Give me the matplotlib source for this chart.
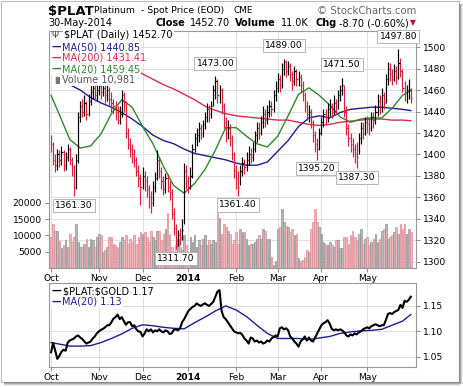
import matplotlib
matplotlib.use('Agg')
import matplotlib.pyplot as plt
import matplotlib.transforms as mtransforms
from matplotlib.patches import Rectangle
import numpy as np
import pandas as pd

plt.rcParams['font.family'] = ['DejaVu Sans']

# ---------------- data ----------------
start_date = '2013-10-01'
end_date = '2014-05-30'
prev_close = 1420.0

closes = [1410, 1395, 1390, 1400, 1395, 1402, 1390, 1398, 1405, 1395,
          1388, 1370, 1395, 1435, 1445, 1440, 1448, 1438, 1450, 1458,
          1462, 1455, 1460, 1464, 1458, 1462, 1455, 1460, 1452, 1448,
          1445, 1440, 1432, 1438, 1455, 1450, 1420, 1410, 1405, 1400,
          1395, 1385, 1378, 1370, 1380, 1375, 1368, 1360, 1355, 1370,
          1378, 1395, 1385, 1375, 1368, 1378, 1370, 1365, 1345, 1332,
          1318, 1325, 1322, 1330, 1385, 1375, 1370, 1380, 1405, 1415,
          1418, 1425, 1420, 1428, 1435, 1442, 1438, 1445, 1460, 1468,
          1455, 1460, 1445, 1430, 1420, 1425, 1415, 1400, 1385, 1378,
          1370, 1385, 1392, 1388, 1395, 1400, 1398, 1405, 1418, 1425,
          1420, 1430, 1438, 1432, 1440, 1445, 1442, 1455, 1462, 1470,
          1465, 1480, 1486, 1478, 1482, 1475, 1468, 1478, 1470, 1472,
          1465, 1455, 1445, 1438, 1440, 1430, 1418, 1410, 1405, 1420,
          1430, 1438, 1435, 1442, 1445, 1440, 1448, 1445, 1455, 1460,
          1465, 1440, 1425, 1415, 1410, 1405, 1400, 1398, 1415, 1425,
          1420, 1430, 1428, 1425, 1435, 1432, 1440, 1450, 1445, 1455,
          1448, 1470, 1480, 1475, 1470, 1478, 1472, 1485, 1478, 1462,
          1458, 1460, 1461.4, 1452.7]

highs = [1418, 1412, 1400, 1405, 1404, 1408, 1404, 1402, 1410, 1407,
         1398, 1390, 1400, 1440, 1450, 1452, 1455, 1450, 1456, 1465,
         1468, 1466, 1465, 1470, 1468, 1468, 1466, 1466, 1463, 1458,
         1452, 1450, 1445, 1445, 1460, 1458, 1450, 1425, 1415, 1410,
         1405, 1398, 1390, 1382, 1388, 1385, 1380, 1372, 1366, 1375,
         1384, 1404, 1398, 1388, 1380, 1383, 1382, 1375, 1368, 1350,
         1335, 1330, 1332, 1340, 1392, 1390, 1380, 1388, 1410, 1420,
         1425, 1430, 1428, 1432, 1440, 1448, 1446, 1450, 1465, 1473,
         1470, 1465, 1462, 1448, 1435, 1432, 1428, 1418, 1402, 1390,
         1385, 1390, 1398, 1396, 1402, 1408, 1406, 1412, 1422, 1430,
         1430, 1436, 1445, 1442, 1446, 1451, 1450, 1460, 1468, 1476,
         1474, 1485, 1489, 1488, 1487, 1485, 1478, 1482, 1480, 1478,
         1475, 1468, 1458, 1450, 1446, 1442, 1432, 1422, 1415, 1425,
         1435, 1442, 1442, 1448, 1452, 1448, 1455, 1452, 1460, 1465,
         1471.5, 1465, 1445, 1428, 1420, 1415, 1410, 1412, 1420, 1430,
         1430, 1435, 1436, 1434, 1440, 1440, 1446, 1456, 1455, 1462,
         1458, 1475, 1486, 1485, 1480, 1484, 1482, 1497.8, 1490, 1480,
         1468, 1465, 1470, 1462]

lows = [1402, 1390, 1384, 1386, 1388, 1390, 1385, 1386, 1394, 1390,
        1380, 1361.3, 1368, 1392, 1430, 1435, 1436, 1432, 1436, 1446,
        1452, 1450, 1450, 1455, 1452, 1454, 1448, 1450, 1446, 1440,
        1438, 1432, 1428, 1428, 1435, 1440, 1415, 1405, 1398, 1392,
        1388, 1380, 1370, 1353, 1368, 1366, 1360, 1350, 1346, 1352,
        1365, 1376, 1378, 1368, 1362, 1364, 1365, 1358, 1340, 1325,
        1311.7, 1315, 1316, 1320, 1335, 1368, 1364, 1368, 1378, 1402,
        1408, 1412, 1414, 1416, 1424, 1430, 1430, 1434, 1445, 1452,
        1448, 1448, 1438, 1425, 1412, 1414, 1408, 1395, 1378, 1368,
        1361.4, 1372, 1380, 1382, 1385, 1390, 1392, 1394, 1402, 1412,
        1414, 1418, 1425, 1426, 1428, 1435, 1436, 1440, 1450, 1458,
        1458, 1462, 1474, 1472, 1474, 1468, 1460, 1465, 1464, 1464,
        1458, 1450, 1440, 1432, 1430, 1425, 1412, 1402, 1395.2, 1404,
        1418, 1426, 1428, 1430, 1436, 1434, 1438, 1438, 1442, 1450,
        1455, 1435, 1418, 1408, 1402, 1398, 1392, 1387.3, 1400, 1410,
        1414, 1418, 1420, 1418, 1422, 1425, 1428, 1436, 1438, 1440,
        1442, 1448, 1465, 1468, 1465, 1468, 1466, 1470, 1472, 1458,
        1450, 1448, 1452, 1448]

volume = [9500, 13500, 11500, 11500, 8300, 6000, 7000, 8500, 6500, 10500,
          8000, 9500, 13500, 8000, 6500, 6500, 7500, 9000, 6500, 9000,
          8500, 6500, 9500,
          10500, 10000, 4800, 5500, 6500, 9500, 9500, 7500, 7000, 6500,
          8000, 9500, 8500, 10000, 7500, 9000, 8000, 10000, 7500, 9500, 11000,
          10500, 11000, 9500, 8000, 11500, 9500, 8500, 11500, 11500, 8500,
          10500, 12000, 17000, 10500, 6500, 5000, 7000, 9000, 6500, 5500,
          10000, 7000,
          3000, 9500, 8000, 10000, 6500, 8500, 7000, 9000, 10000, 7000,
          8500, 7500, 8500, 8000, 17000, 15500, 10500, 13500, 12500, 11500,
          10500, 7500, 8500,
          11000, 7300, 12000, 11000, 11000, 9000, 7000, 7500, 7500, 8000,
          9000, 10000, 9000, 12000, 11500, 9000, 9000, 3500, 800, 2000,
          12000, 12500, 18000, 14000, 13000, 12500, 11000, 12000, 10000, 10500,
          3000, 2000, 2500, 3500, 5500, 5000, 12000, 14000, 18000, 14000, 12500,
          10500, 8000, 7500, 7000, 8000, 7000, 6500, 8500, 8500, 6000,
          6000, 9500, 9500, 7500, 10000, 11500, 9500, 8500, 10500, 12000,
          7500, 9000,
          9500, 7000, 8000, 9000, 10500, 8000, 9000, 11500, 12000, 13500,
          9000, 9500, 10000, 11000, 12500, 10500, 13500, 12000, 13500, 10500,
          12000, 10981]

ratio = [1.059, 1.077, 1.062, 1.046, 1.052, 1.060, 1.064, 1.062, 1.078, 1.082,
         1.084, 1.086, 1.090, 1.092, 1.088, 1.085, 1.080, 1.076, 1.078, 1.080,
         1.086, 1.090, 1.096, 1.100, 1.103, 1.105, 1.108, 1.112, 1.112, 1.118,
         1.125, 1.128, 1.133, 1.124, 1.128, 1.120, 1.113, 1.118, 1.118, 1.110,
         1.112, 1.104, 1.100, 1.099, 1.090, 1.096, 1.104, 1.100, 1.104, 1.098,
         1.102, 1.100, 1.104, 1.100, 1.098, 1.102, 1.100, 1.095, 1.096, 1.103,
         1.104, 1.102, 1.106, 1.118, 1.124, 1.132, 1.140, 1.144, 1.148, 1.150,
         1.155, 1.152, 1.150, 1.153, 1.155, 1.152, 1.150, 1.154, 1.158, 1.168,
         1.178, 1.181, 1.140, 1.128, 1.124, 1.118, 1.112, 1.106, 1.100, 1.098,
         1.096, 1.097, 1.093, 1.086, 1.082, 1.076, 1.088, 1.086, 1.080, 1.082,
         1.078, 1.080, 1.076, 1.078, 1.082, 1.080, 1.086, 1.089, 1.092, 1.090,
         1.106, 1.108, 1.104, 1.106, 1.102, 1.090, 1.086, 1.080, 1.076, 1.070,
         1.080, 1.084, 1.090, 1.082, 1.088, 1.082, 1.080, 1.088, 1.096, 1.104,
         1.112, 1.116, 1.118, 1.122, 1.115, 1.105, 1.102, 1.104, 1.102, 1.104,
         1.102, 1.098, 1.092, 1.090, 1.094, 1.092, 1.096, 1.094, 1.098, 1.100,
         1.104, 1.106, 1.108, 1.106, 1.110, 1.112, 1.114, 1.112, 1.110, 1.112,
         1.112, 1.122, 1.134, 1.136, 1.134, 1.138, 1.140, 1.142, 1.152, 1.146,
         1.160, 1.158, 1.162, 1.168]

# weekly samples of the moving averages (Mondays + last day)
ma_dates = ['2013-10-01', '2013-10-07', '2013-10-14', '2013-10-21', '2013-10-28',
            '2013-11-04', '2013-11-11', '2013-11-18', '2013-11-25', '2013-12-02',
            '2013-12-09', '2013-12-16', '2013-12-23', '2013-12-30', '2014-01-06',
            '2014-01-13', '2014-01-20', '2014-01-27', '2014-02-03', '2014-02-10',
            '2014-02-17', '2014-02-24', '2014-03-03', '2014-03-10', '2014-03-17',
            '2014-03-24', '2014-03-31', '2014-04-07', '2014-04-14', '2014-04-21',
            '2014-04-28', '2014-05-05', '2014-05-12', '2014-05-19', '2014-05-26',
            '2014-05-30']
ma20 = [1455, 1437, 1414, 1406, 1408, 1419, 1438, 1451, 1444, 1426,
        1410, 1389, 1371, 1364, 1373, 1386, 1404, 1425, 1425, 1417,
        1410, 1407, 1417, 1436, 1456, 1462, 1455, 1446, 1435, 1430,
        1433, 1434, 1434, 1443, 1455, 1459.45]
ma50 = [None, None, 1465, 1460, 1453, 1448, 1444, 1439, 1433, 1426,
        1418, 1413, 1410, 1405, 1401, 1399, 1397, 1395, 1392, 1390,
        1390, 1393, 1403, 1413, 1426, 1434, 1436, 1434, 1439, 1442,
        1443, 1444, 1444, 1443, 1442, 1440.85]
ma200 = [None, None, None, None, None, None, None, None, 1480, 1475,
         1470, 1465, 1461, 1456, 1451, 1445, 1441, 1438, 1436, 1435,
         1434, 1433, 1432, 1432, 1430, 1428, 1427, 1428, 1430, 1431,
         1432, 1433, 1433, 1432, 1432, 1431.41]
ratio_ma20 = [1.078, 1.075, 1.071, 1.071, 1.072, 1.078, 1.086, 1.095, 1.106, 1.113,
              1.111, 1.108, 1.106, 1.105, 1.117, 1.128, 1.140, 1.150, 1.142, 1.129,
              1.112, 1.096, 1.086, 1.086, 1.086, 1.084, 1.087, 1.090, 1.096, 1.099,
              1.101, 1.102, 1.104, 1.112, 1.120, 1.133]

month_labels = ['Oct', 'Nov', 'Dec', '2014', 'Feb', 'Mar', 'Apr', 'May']
price_ticks = list(range(1300, 1501, 20))
volume_ticks = [5000, 10000, 15000, 20000]
ratio_ticks = [1.05, 1.10, 1.15]

# extremes annotated: (bar number, value, 'low'/'high')
extreme_labels = [(11, 1361.30, 'low'), (60, 1311.70, 'low'), (79, 1473.00, 'high'),
                  (90, 1361.40, 'low'), (112, 1489.00, 'high'), (128, 1395.20, 'low'),
                  (140, 1471.50, 'high'), (147, 1387.30, 'low'), (167, 1497.80, 'high')]

# ---------------- figure ----------------
W, H = 464, 387
fig = plt.figure(figsize=(W / 100, H / 100), dpi=100)
fig.patch.set_facecolor('white')


def fx(x):
    return x / W


def fy(y):
    return 1 - y / H


dates = pd.bdate_range(start_date, end_date)
n = len(dates)
xi = np.arange(n)
date_pos = {d.strftime('%Y-%m-%d'): i for i, d in enumerate(dates)}
month_pos = []
seen = set()
for i, d in enumerate(dates):
    key = (d.year, d.month)
    if key not in seen:
        seen.add(key)
        month_pos.append(i)

closes = np.array(closes, float)
highs = np.array(highs, float)
lows = np.array(lows, float)
volume = np.array(volume, float)
prevs = np.concatenate([[prev_close], closes[:-1]])
up = closes >= prevs

RED = '#dc1f3c'
GRID = '#dedede'
TXT = '#000000'
FS = 6.6

# ---------- main panel ----------
L, R = 49, 416
ax = fig.add_axes([fx(L), fy(268), fx(R) - fx(L), fy(31) - fy(268)])
P0, P1 = 1294.4, 1514.9
VMAX = 72900.0
ax.set_xlim(-1, 175.5)
ax.set_ylim(P0, P1)
ax.set_yticks(price_ticks)
ax.yaxis.tick_right()
ax.tick_params(axis='y', labelsize=FS, length=3, width=0.6, color='#777777', pad=2)
ax.set_xticks(month_pos)
ax.set_xticklabels(month_labels)
ax.tick_params(axis='x', labelsize=FS, length=3, width=0.6, color='#777777', pad=1.5)
for lab in ax.get_xticklabels():
    if lab.get_text() == '2014':
        lab.set_fontweight('bold')
ax.grid(True, color=GRID, lw=0.7, zorder=0)
ax.set_axisbelow(True)
for s in ax.spines.values():
    s.set_color('#999999')
    s.set_linewidth(0.8)

# volume bars (scaled into axes fraction)
trans = mtransforms.blended_transform_factory(ax.transData, ax.transAxes)
vcol = np.where(up, '#bababa', '#f2b6bb')
vedge = np.where(up, '#909090', '#de8a92')
ax.bar(xi, volume / VMAX, width=0.82, bottom=0, color=vcol, edgecolor=vedge,
       linewidth=0.5, transform=trans, zorder=1)


def p2v(p):
    return (np.asarray(p) - P0) / (P1 - P0) * VMAX


def v2p(v):
    return P0 + np.asarray(v) / VMAX * (P1 - P0)


sec = ax.secondary_yaxis('left', functions=(p2v, v2p))
sec.set_yticks(volume_ticks)
sec.set_yticklabels([str(v) for v in volume_ticks])
sec.tick_params(labelsize=FS, length=3, width=0.6, color='#777777', pad=2)
sec.spines['left'].set_visible(False)

# moving averages
mx = [date_pos[d] for d in ma_dates]


def plot_ma(axis, vals, color, lw=1.0):
    pts = [(x, v) for x, v in zip(mx, vals) if v is not None]
    axis.plot([p[0] for p in pts], [p[1] for p in pts], color=color, lw=lw, zorder=3)


plot_ma(ax, ma200, '#e0284a')
plot_ma(ax, ma50, '#1c1c96')
plot_ma(ax, ma20, '#2a8a2a')

# price bars (HLC)
pcol = np.where(up, '#000000', RED)
ax.vlines(xi, lows, highs, colors=pcol, lw=0.85, zorder=4)
ax.hlines(closes, xi, xi + 0.6, colors=pcol, lw=0.85, zorder=4)

# extreme labels
for i, v, kind in extreme_labels:
    dy = -9 if kind == 'low' else 13
    ax.annotate(f'{v:.2f}', xy=(i, v), xytext=(0, dy), textcoords='offset pixels',
                ha='center', va='center', fontsize=FS, zorder=6,
                bbox=dict(boxstyle='square,pad=0.22', fc='white', ec='#b5b5b5', lw=0.7))

# legend (main)
leg_box = dict(boxstyle='square,pad=0.12', fc='white', ec='none')
fig.text(fx(52), fy(35), '\u03a8', fontsize=FS, va='center', ha='left', color='#444444')
fig.text(fx(64), fy(35), r'\$PLAT (Daily) 1452.70', fontsize=7.0, va='center', ha='left',
         color=TXT, bbox=leg_box)
leg_items = [('MA(50) 1440.85', '#1c1c96', 47), ('MA(200) 1431.41', '#e0284a', 58),
             ('MA(20) 1459.45', '#2a8a2a', 69)]
for txt, c, y in leg_items:
    fig.text(fx(52), fy(y), '\u2014', fontsize=7.0, va='center', ha='left', color=c,
             fontweight='bold', bbox=leg_box)
    fig.text(fx(62), fy(y), txt, fontsize=7.0, va='center', ha='left', color=c, bbox=leg_box)
fig.text(fx(52), fy(80), '\u2590\u258c', fontsize=5, va='center', ha='left', color='#777777')
fig.text(fx(62), fy(80), 'Volume 10,981', fontsize=7.0, va='center', ha='left',
         color='#555555', bbox=leg_box)

# ---------- lower panel ----------
ax3 = fig.add_axes([fx(L), fy(367), fx(R) - fx(L), fy(283) - fy(367)])
ax3.set_xlim(-1, 175.5)
ax3.set_ylim(1.030, 1.195)
ax3.set_yticks(ratio_ticks)
ax3.set_yticklabels([f'{t:.2f}' for t in ratio_ticks])
ax3.yaxis.tick_right()
ax3.tick_params(axis='y', labelsize=FS, length=3, width=0.6, color='#777777', pad=2)
ax3.set_xticks(month_pos)
ax3.set_xticklabels(month_labels)
ax3.tick_params(axis='x', labelsize=FS, length=3, width=0.6, color='#777777', pad=1.5)
for lab in ax3.get_xticklabels():
    if lab.get_text() == '2014':
        lab.set_fontweight('bold')
ax3.grid(True, color=GRID, lw=0.7, zorder=0)
ax3.set_axisbelow(True)
for s in ax3.spines.values():
    s.set_color('#999999')
    s.set_linewidth(0.8)
plot_ma(ax3, ratio_ma20, '#1c1c96')
ax3.plot(xi, ratio, color='#000000', lw=1.5, zorder=4)

fig.text(fx(52), fy(291), '\u2014', fontsize=7.0, va='center', ha='left', color='#000000',
         fontweight='bold', bbox=leg_box)
fig.text(fx(63), fy(291), r'\$PLAT:\$GOLD 1.17', fontsize=7.0, va='center', ha='left',
         color='#000000', bbox=leg_box)
fig.text(fx(52), fy(302), '\u2014', fontsize=7.0, va='center', ha='left', color='#1c1c96',
         fontweight='bold', bbox=leg_box)
fig.text(fx(62), fy(302), 'MA(20) 1.13', fontsize=7.0, va='center', ha='left',
         color='#1c1c96', bbox=leg_box)

# ---------- header ----------
fig.text(fx(48), fy(11), r'\$PLAT', fontsize=9.5, fontweight='bold', va='center', ha='left')
fig.text(fx(94), fy(10.5), 'Platinum  - Spot Price (EOD)', fontsize=6.7, va='center', ha='left')
fig.text(fx(233), fy(10.5), 'CME', fontsize=6.4, va='center', ha='left')
fig.text(fx(416), fy(10.5), '\u00a9 StockCharts.com', fontsize=7.3, va='center', ha='right',
         color='#666666')
fig.text(fx(48), fy(23), '30-May-2014', fontsize=7.0, va='center', ha='left')
hdr = [(155, 'Close', True), (190, '1452.70', False), (235, 'Volume', True),
       (281, '11.0K', False), (315, 'Chg', True), (339, '-8.70 (-0.60%)', False)]
for x, t, b in hdr:
    fig.text(fx(x), fy(23), t, fontsize=7.0, va='center', ha='left',
             fontweight='bold' if b else 'normal')
fig.text(fx(410), fy(23), '\u25bc', fontsize=5.5, va='center', ha='left', color='#b0102a')

# ---------- frame / shadow ----------
fig.patches.append(Rectangle((fx(1), fy(382)), fx(458), fy(1) - fy(382), transform=fig.transFigure,
                             fill=False, ec='#bdbdbd', lw=0.8, zorder=0))
for k, c in enumerate(['#8a8a8a', '#a8a8a8', '#cfcfcf', '#ececec']):
    fig.patches.append(Rectangle((fx(459 + k), fy(384)), fx(1), fy(4) - fy(384),
                                 transform=fig.transFigure, fc=c, ec='none', zorder=0))
    fig.patches.append(Rectangle((fx(4), fy(383 + k)), fx(456), fy(382 + k) - fy(383 + k),
                                 transform=fig.transFigure, fc=c, ec='none', zorder=0))

fig.savefig('out.png', dpi=100)
